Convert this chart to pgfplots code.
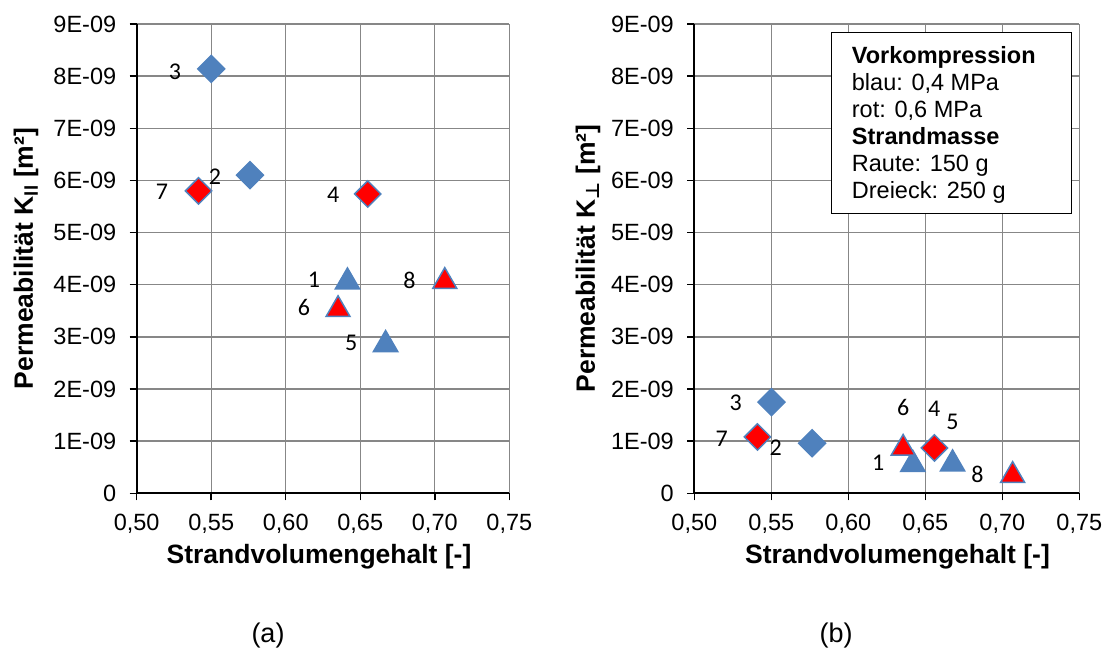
\documentclass[border=0pt]{standalone}
\usepackage{pgfplots}
\pgfplotsset{compat=1.18}
\usepackage{fontspec}
\setmainfont{Liberation Sans}
\newfontfamily\calib{Carlito}
\newfontfamily\djv{DejaVu Sans}
\definecolor{eblue}{HTML}{4F81BD}
\definecolor{ered}{HTML}{FF0000}
\definecolor{gridgray}{HTML}{878787}

\pgfplotsset{
  myax/.style={
    scale only axis, anchor=south west, height=469.3bp,
    xmin=0.5, xmax=0.75, ymin=0, ymax=9,
    xtick={0.5,0.55,0.6,0.65,0.7,0.75},
    xticklabels={{0,50},{0,55},{0,60},{0,65},{0,70},{0,75}},
    ytick={0,1,2,3,4,5,6,7,8,9},
    yticklabels={0,1E-09,2E-09,3E-09,4E-09,5E-09,6E-09,7E-09,8E-09,9E-09},
    axis lines*=left, tick align=outside, major tick length=7bp,
    axis line style={black, line width=2bp},
    major tick style={black, line width=1.5bp},
    grid=major, major grid style={gridgray, line width=1.3bp},
    tick label style={font=\fontsize{23.5bp}{27bp}\selectfont},
    xticklabel style={yshift=-10bp},
    yticklabel style={xshift=-10bp},
    clip=false,
  },
  bd/.style={only marks, mark=square*, mark size=9.5bp, mark options={rotate=45, draw=eblue, fill=eblue, line width=1.5bp}},
  rd/.style={only marks, mark=square*, mark size=9.3bp, mark options={rotate=45, draw=eblue, fill=ered, line width=1.5bp}},
  bt/.style={only marks, mark=triangle*, mark size=14bp, mark options={yshift=-3.5bp, draw=eblue, fill=eblue, line width=1.5bp}},
  rt/.style={only marks, mark=triangle*, mark size=13.8bp, mark options={yshift=-3.5bp, draw=eblue, fill=ered, line width=1.5bp}},
}
\newcommand{\dl}{\calib\fontsize{24bp}{28bp}\selectfont}

\begin{document}
\begin{tikzpicture}[x=1bp, y=1bp]
\path[use as bounding box] (0,0) rectangle (1105,651);

% ---------- (a) parallel permeability ----------
\begin{axis}[myax, at={(136.7bp,157.7bp)}, width=372.6bp]
\addplot[bt] coordinates {(0.6414,4.12)};  % 1
\addplot[bd] coordinates {(0.5760,6.10)};  % 2
\addplot[bd] coordinates {(0.5500,8.14)};  % 3
\addplot[rd] coordinates {(0.6550,5.74)};  % 4
\addplot[bt] coordinates {(0.6670,2.92)};  % 5
\addplot[rt] coordinates {(0.6351,3.59)};  % 6
\addplot[rd] coordinates {(0.5415,5.80)};  % 7
\addplot[rt] coordinates {(0.7067,4.13)};  % 8
\node[font=\dl] at (axis cs:0.5257,8.08) {3};
\node[font=\dl] at (axis cs:0.5525,6.07) {2};
\node[font=\dl] at (axis cs:0.5170,5.79) {7};
\node[font=\dl] at (axis cs:0.6318,5.72) {4};
\node[font=\dl] at (axis cs:0.6190,4.10) {1};
\node[font=\dl] at (axis cs:0.6830,4.09) {8};
\node[font=\dl] at (axis cs:0.6123,3.57) {6};
\node[font=\dl] at (axis cs:0.6440,2.88) {5};
\end{axis}

% ---------- (b) perpendicular permeability ----------
\begin{axis}[myax, at={(694.3bp,157.7bp)}, width=385bp]
\addplot[bt] coordinates {(0.6419,0.62)};  % 1
\addplot[bd] coordinates {(0.5765,0.96)};  % 2
\addplot[bd] coordinates {(0.5501,1.75)};  % 3
\addplot[rd] coordinates {(0.6559,0.87)};  % 4
\addplot[bt] coordinates {(0.6677,0.63)};  % 5
\addplot[rt] coordinates {(0.6356,0.93)};  % 6
\addplot[rd] coordinates {(0.5410,1.08)};  % 7
\addplot[rt] coordinates {(0.7067,0.41)};  % 8
\node[font=\dl] at (axis cs:0.5269,1.73) {3};
\node[font=\dl] at (axis cs:0.5178,1.04) {7};
\node[font=\dl] at (axis cs:0.5528,0.88) {2};
\node[font=\dl] at (axis cs:0.6357,1.64) {6};
\node[font=\dl] at (axis cs:0.6558,1.62) {4};
\node[font=\dl] at (axis cs:0.6677,1.37) {5};
\node[font=\dl] at (axis cs:0.6194,0.58) {1};
\node[font=\dl] at (axis cs:0.6839,0.36) {8};
\end{axis}

% axis titles
\node[font=\bfseries\fontsize{26.5bp}{30bp}\selectfont] at (319,94.3) {Strandvolumengehalt [-]};
\node[font=\bfseries\fontsize{26.5bp}{30bp}\selectfont] at (897.5,94.3) {Strandvolumengehalt [-]};
\node[rotate=90, font=\bfseries\fontsize{26.5bp}{30bp}\selectfont] at (26,392.5)
  {Permeabilität K\textsubscript{ll} [m²]};
\node[rotate=90, font=\bfseries\fontsize{26.5bp}{30bp}\selectfont] at (588,392.5)
  {Permeabilität K\textsubscript{\djv\bfseries ⊥} [m²]};

% legend box
\node[draw=black, line width=1.3bp, fill=white, anchor=north west, inner sep=0,
      minimum width=240bp, minimum height=181bp] at (831,619.3) {};
\node[anchor=north west, align=left, inner sep=0, font=\fontsize{23.5bp}{27bp}\selectfont]
  at (851.7,604.3) {\textbf{Vorkompression}\\blau: 0,4 MPa\\rot: 0,6 MPa\\\textbf{Strandmasse}\\Raute: 150 g\\Dreieck: 250 g};

% panel captions
\node[font=\fontsize{27bp}{31bp}\selectfont] at (268,15.5) {(a)};
\node[font=\fontsize{27bp}{31bp}\selectfont] at (836,15.5) {(b)};
\end{tikzpicture}
\end{document}
